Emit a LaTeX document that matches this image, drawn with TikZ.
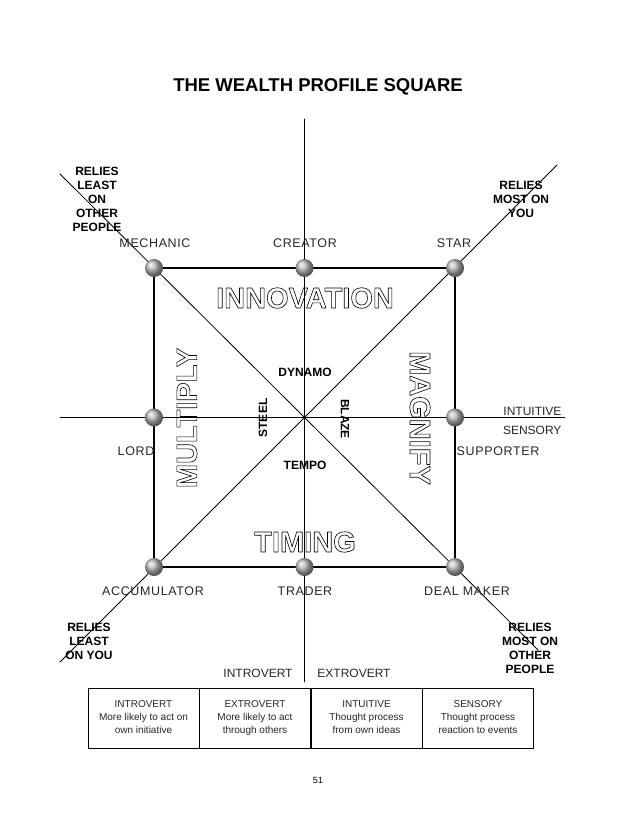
\documentclass[tikz,border=0pt]{standalone}
\usepackage{fontspec}
\setmainfont{Liberation Sans}
\newfontfamily\spacedfont[LetterSpace=5]{Liberation Sans}
\usetikzlibrary{positioning,shadings}
\newcommand\hollow[1]{\special{pdf:literal direct 1 Tr 0.6 w}#1\special{pdf:literal direct 0 Tr}}
\tikzset{
  relies/.style={font=\bfseries\fontsize{12}{14}\selectfont,align=center,inner sep=0pt},
  post/.style={font=\spacedfont\fontsize{12.5}{15}\selectfont,text=black!85},
  side/.style={font=\fontsize{12}{14}\selectfont,text=black!85},
  mood/.style={font=\bfseries\fontsize{12}{14}\selectfont},
  big/.style={font=\bfseries\fontsize{29}{32}\selectfont},
  cell/.style={draw,line width=0.5pt,minimum width=111pt,minimum height=60pt,align=center,inner sep=0pt,font=\fontsize{10}{13}\selectfont,text=black!85},
}
\begin{document}
\begin{tikzpicture}[x=1pt,y=-1pt,line join=round,line cap=round]
\useasboundingbox (0,0) rectangle (638,826);
% square corners and mid points
\coordinate (A) at (154,268);
\coordinate (B) at (455,268);
\coordinate (C) at (455,567);
\coordinate (D) at (154,567);
\coordinate (N) at (304.5,268);
\coordinate (S) at (304.5,567);
\coordinate (W) at (154,417.5);
\coordinate (E) at (455,417.5);
% axis ends
\coordinate (n) at (304.5,119);
\coordinate (s) at (304.5,682);
\coordinate (w) at (60,417.5);
\coordinate (e) at (565,417.5);
\coordinate (nw) at (60,174);
\coordinate (se) at (538,650);
\coordinate (ne) at (557,165);
\coordinate (sw) at (60,662);
\draw[line width=0.8pt] (n)--(s) (w)--(e) (nw)--(se) (sw)--(ne);
\draw[line width=1.6pt] (A)--(B)--(C)--(D)--cycle;
\foreach \i in {A,B,C,D,N,S,W,E}{\shade[ball color=gray!55] (\i) circle (9pt);}
\node[font=\bfseries\fontsize{18.5}{22}\selectfont] (title) at (318,87) {THE WEALTH PROFILE SQUARE};
% corner notes
\node[relies] (leastother) at (97,199) {RELIES\\LEAST\\ON\\OTHER\\PEOPLE};
\node[relies] (mostyou) at (521,199) {RELIES\\MOST ON\\YOU};
\node[relies] (leastyou) at (89,641) {RELIES\\LEAST\\ON YOU};
\node[relies] (mostother) at (530,648) {RELIES\\MOST ON\\OTHER\\PEOPLE};
% positions
\node[post] (mechanic) at (155,243) {MECHANIC};
\node[post] (creator) at (305,243) {CREATOR};
\node[post] (star) at (454,243) {STAR};
\node[post] (lord) at (136,451) {LORD};
\node[post] (supporter) at (498,451) {SUPPORTER};
\node[post] (accumulator) at (153,591) {ACCUMULATOR};
\node[post] (trader) at (305,591) {TRADER};
\node[post] (dealmaker) at (467,591) {DEAL MAKER};
\node[side,anchor=east] (intuitive) at (565,411) {INTUITIVE};
\node[side,anchor=east] (sensory) at (565,430) {SENSORY};
\node[side] (introvert) at (258,673) {INTROVERT};
\node[side] (extrovert) at (354,673) {EXTROVERT};
% the four ways
\node[big] (innovation) at (305,298) {\hollow{INNOVATION}};
\node[big] (timing) at (305,542) {\hollow{TIMING}};
\node[big,rotate=90] (multiply) at (187,418) {\hollow{MULTIPLY}};
\node[big,rotate=-90] (magnify) at (420,418) {\hollow{MAGNIFY}};
% profiles
\node[mood] (dynamo) at (305,372) {DYNAMO};
\node[mood] (tempo) at (305,465) {TEMPO};
\node[mood,rotate=90] (steel) at (263,418) {STEEL};
\node[mood,rotate=-90] (blaze) at (345,419) {BLAZE};
% table
\node[cell] (c1) at (143.5,718) {\strut INTROVERT\\More likely to act on\\own initiative\strut};
\node[cell,right=0pt of c1] (c2) {\strut EXTROVERT\\More likely to act\\through others\strut};
\node[cell,right=0pt of c2] (c3) {\strut INTUITIVE\\Thought process\\from own ideas\strut};
\node[cell,right=0pt of c3] (c4) {\strut SENSORY\\Thought process\\reaction to events\strut};
\node[font=\fontsize{9}{11}\selectfont] (page) at (318,780) {51};
\end{tikzpicture}
\end{document}
